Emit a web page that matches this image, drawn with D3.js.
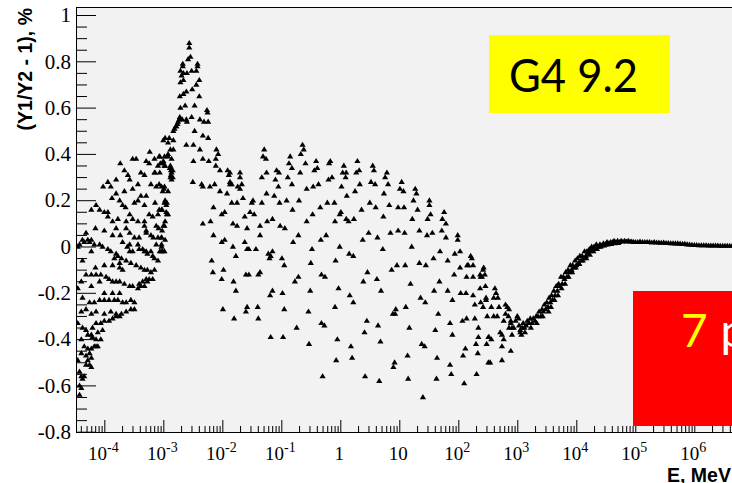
<!DOCTYPE html>
<html><head><meta charset="utf-8">
<script src="https://cdn.jsdelivr.net/npm/d3@7"></script>
<style>html,body{margin:0;padding:0;background:#fff;} svg{display:block;}</style>
</head><body><svg id="c" width="732" height="483"></svg>
<script>
// ---- tick data ----
const yMajorTicks = [-0.8,-0.6,-0.4,-0.2,0,0.2,0.4,0.6,0.8,1];
const yTickLabels = ["-0.8","-0.6","-0.4","-0.2","0","0.2","0.4","0.6","0.8","1"];
const xDecadeExps = [-4,-3,-2,-1,0,1,2,3,4,5,6];
const xTickBase = ["10","10","10","10","1","10","10","10","10","10","10"];
const xTickExp  = ["-4","-3","-2","-1","","","2","3","4","5","6"];
const yTitle = "(Y1/Y2 - 1), %";
const xTitle = "E, MeV";
const versionLabel = "G4 9.2";

// ---- data: [log10(E / MeV), (Y1/Y2 - 1) in %] ----
const lowEnergy = [
[-3.23,0.41],[-3.52,0.38],[-3.46,0.38],[-3.29,0.37],[-3.15,0.38],[-3.07,0.39],[-3.73,0.36],[-3.24,0.36],[-3.09,0.35],
[-3.66,0.33],[-3.60,0.31],[-3.57,0.29],[-3.38,0.32],[-3.32,0.31],[-3.15,0.32],[-3.94,0.28],[-3.80,0.29],[-3.43,0.27],
[-3.21,0.27],[-3.12,0.26],[-3.07,0.27],[-4.02,0.26],[-3.89,0.26],[-3.66,0.24],[-3.52,0.25],[-3.80,0.23],[-3.87,0.21],
[-3.38,0.22],[-3.29,0.22],[-3.49,0.19],[-3.43,0.20],[-3.74,0.20],[-3.69,0.18],[-3.64,0.17],[-3.32,0.18],[-3.14,0.19],
[-4.14,0.18],[-4.22,0.16],[-4.08,0.16],[-4.00,0.15],[-3.94,0.15],[-3.07,0.16],[-3.09,0.14],[-3.94,0.13],[-3.86,0.11],
[-3.77,0.12],[-3.57,0.14],[-3.52,0.12],[-3.24,0.14],[-3.18,0.13],[-3.43,0.11],[-3.63,0.11],[-3.32,0.11],[-3.32,0.09],
[-3.29,0.07],[-3.12,0.09],[-3.08,0.08],[-3.80,0.08],[-3.63,0.08],[-3.57,0.06],[-4.15,0.08],[-4.00,0.07],[-4.31,0.06],
[-3.86,0.05],[-3.73,0.05],[-3.49,0.04],[-3.41,0.04],[-3.29,0.06],[-3.21,0.05],[-3.17,0.04],[-3.09,0.04],[-3.03,0.04],
[-4.45,0.00],[-4.37,0.03],[-4.28,0.03],[-4.22,0.03],
[-4.42,0.01],[-4.34,0.02],[-4.25,0.02],[-4.17,0.01],[-4.08,0.01],[-4.03,0.00],[-3.94,-0.01],[-3.89,-0.02],[-3.80,-0.03],
[-3.77,-0.04],[-3.69,0.02],[-3.57,0.01],[-3.43,0.01],[-3.41,-0.01],[-3.32,-0.02],[-3.27,-0.03],[-3.18,-0.04],[-3.15,-0.05],
[-3.09,-0.06],[-3.12,0.01],[-3.03,0.00],[-3.06,-0.02],[-3.01,-0.02],[-3.61,0.00],[-3.57,-0.02],[-3.52,-0.02],[-3.35,-0.01],
[-3.29,-0.02],[-3.21,-0.02],[-4.22,-0.02],[-4.37,-0.06],[-3.83,-0.05],[-3.74,-0.07],[-3.71,-0.05],[-3.63,-0.06],[-3.55,-0.07],
[-3.46,-0.08],[-3.38,-0.09],[-3.32,-0.10],[-3.27,-0.10],[-3.21,-0.11],[-3.15,-0.10],[-3.86,-0.08],[-4.00,-0.08],[-4.15,-0.09],
[-3.74,-0.09],[-3.69,-0.10],[-4.31,-0.12],[-4.22,-0.12],[-4.14,-0.12],[-4.06,-0.12],[-3.97,-0.13],[-3.92,-0.14],[-3.86,-0.15],
[-3.80,-0.15],[-4.39,-0.15],[-4.45,-0.18],[-3.74,-0.15],[-3.66,-0.16],[-3.57,-0.17],[-3.52,-0.17],[-3.41,-0.16],[-3.35,-0.15],
[-3.29,-0.14],[-3.24,-0.14],[-3.18,-0.14],[-3.27,-0.15],[-3.32,-0.17],[-3.38,-0.17],[-3.43,-0.18],[-4.22,-0.17],[-4.08,-0.15],
[-4.00,-0.20],[-3.86,-0.20],[-3.74,-0.20],
[-4.37,-0.22],[-4.25,-0.24],[-4.17,-0.24],[-4.08,-0.23],[-4.00,-0.23],[-3.92,-0.23],[-3.83,-0.23],[-3.77,-0.23],[-3.69,-0.24],
[-3.63,-0.24],[-3.55,-0.23],[-3.49,-0.24],[-4.39,-0.28],[-4.31,-0.27],[-4.22,-0.29],[-4.14,-0.28],[-4.00,-0.29],[-3.89,-0.28],
[-3.80,-0.29],[-3.71,-0.29],[-3.63,-0.28],[-3.55,-0.27],[-3.49,-0.27],[-4.45,-0.33],[-4.37,-0.35],[-4.31,-0.36],[-4.28,-0.38],
[-4.20,-0.35],[-4.14,-0.33],[-4.06,-0.33],[-4.00,-0.32],[-3.92,-0.32],[-3.86,-0.31],[-3.80,-0.30],[-3.74,-0.30],[-4.22,-0.38],
[-4.20,-0.39],[-4.14,-0.40],[-4.06,-0.40],[-4.11,-0.37],[-4.03,-0.36],[-4.39,-0.40],[-4.34,-0.43],[-4.28,-0.44],[-4.22,-0.44],
[-4.17,-0.43],[-4.14,-0.43],[-4.11,-0.43],[-4.39,-0.46],[-4.31,-0.47],[-4.25,-0.46],[-4.22,-0.48],[-4.45,-0.49],[-4.28,-0.49],
[-4.25,-0.51],[-4.31,-0.51],[-4.22,-0.52],[-4.42,-0.54],[-4.39,-0.56],[-4.34,-0.56],[-4.37,-0.57],[-4.42,-0.60],[-4.39,-0.61],
[-4.42,-0.64]
];
const nearThreshold = [
[-3.06,0.39],[-3.00,0.37],[-2.92,0.39],[-2.86,0.38],[-2.97,0.47],[-3.00,0.46],[-2.92,0.45],[-2.83,0.46],[-2.90,0.47],
[-2.88,0.42],[-2.83,0.42],[-3.05,0.36],[-3.00,0.36],[-2.97,0.35],[-3.14,0.32],[-3.06,0.32],[-2.88,0.35],[-2.87,0.33],
[-2.87,0.31],[-2.86,0.29],[-2.88,0.30],[-2.89,0.34],[-2.86,0.32],[-3.03,0.26],[-2.99,0.25],[-3.01,0.24],
[-2.97,0.20],[-2.94,0.19],[-3.03,0.16],[-2.94,0.14],[-2.97,0.11],[-3.00,0.09],[-3.03,0.04],[-3.03,0.01],[-3.03,-0.02],
[-2.98,0.39],[-2.92,0.40],[-2.98,0.35],[-2.87,0.34],[-2.84,0.33],[-2.84,0.30],[-2.98,0.26],[-2.92,0.24],[-2.98,0.19],
[-2.95,0.18],[-3.02,0.16],[-2.95,0.15],[-2.92,0.14],[-2.98,0.09],[-3.02,0.07],[-2.97,0.03],[-2.98,-0.02]
];
const peakRegion = [
[-2.56,0.88],[-2.56,0.86],[-2.54,0.82],[-2.58,0.81],[-2.67,0.79],[-2.67,0.78],[-2.71,0.76],[-2.66,0.75],[-2.69,0.74],
[-2.42,0.79],[-2.42,0.78],[-2.44,0.76],[-2.60,0.75],[-2.52,0.76],[-2.39,0.72],[-2.66,0.72],[-2.71,0.71],[-2.44,0.70],
[-2.51,0.68],[-2.61,0.67],[-2.66,0.66],[-2.72,0.65],[-2.39,0.65],[-2.63,0.61],[-2.71,0.60],[-2.47,0.61],[-2.26,0.59],
[-2.25,0.58],[-2.52,0.56],[-2.61,0.55],[-2.60,0.54],[-2.38,0.55],[-2.31,0.54],[-2.24,0.54],
[-2.83,0.50],[-2.81,0.51],[-2.79,0.52],[-2.78,0.52],[-2.76,0.53],[-2.75,0.54],[-2.73,0.55],[-2.72,0.56],[-2.68,0.55],
[-2.47,0.50],[-2.33,0.48],[-2.24,0.47],[-2.61,0.44],[-2.49,0.44],[-2.38,0.42],[-2.10,0.42],[-2.07,0.40],[-2.11,0.38],
[-2.33,0.38],[-2.23,0.37],[-2.49,0.37],[-2.11,0.35],[-2.04,0.33],[-1.91,0.33],[-1.89,0.31],[-1.87,0.27],[-1.70,0.32],
[-1.70,0.30],[-2.50,0.28],[-2.35,0.27],[-2.33,0.26],[-2.21,0.26],[-2.13,0.27],[-2.04,0.24],[-1.92,0.23],[-1.84,0.27],
[-1.67,0.27],[-1.70,0.25],[-1.65,0.21]
];
const midRange = [
[-1.84,0.19],[-1.75,0.19],[-2.15,0.17],[-2.01,0.14],[-1.96,0.15],[-1.62,0.13],[-1.53,0.15],[-2.33,0.10],[-2.20,0.11],
[-1.82,0.10],[-1.75,0.09],[-1.58,0.08],[-2.15,0.05],[-1.96,0.03],[-2.01,0.02],[-1.62,0.02],[-1.82,0.00],[-1.77,-0.04],
[-1.58,-0.01],[-2.18,-0.06],[-2.16,-0.11],[-1.98,-0.10],[-2.01,-0.14],[-1.81,-0.15],[-1.60,-0.12],[-1.55,-0.12],[-1.77,-0.19],
[-1.99,-0.27],[-1.58,-0.26],[-1.60,-0.28],[-1.80,-0.31],
[-0.64,0.44],[-0.62,0.42],[-0.67,0.40],[-1.29,0.42],[-1.31,0.39],[-1.26,0.38],[-0.85,0.39],[-0.87,0.36],[-0.82,0.34],
[-0.59,0.36],[-0.41,0.37],[-0.39,0.34],[-0.44,0.33],[-0.17,0.37],[-0.19,0.36],[-0.14,0.30],[-0.20,0.29],[0.06,0.35],
[0.10,0.32],[0.04,0.32],[0.09,0.30],[0.29,0.37],[0.32,0.33],[0.27,0.32],[0.55,0.35],[0.57,0.33],[0.52,0.28],[0.59,0.27],
[0.79,0.32],[0.76,0.30],[0.81,0.27],[1.04,0.28],[1.01,0.25],[1.07,0.24],[1.27,0.25],[1.29,0.23],[1.24,0.20],[1.51,0.20],
[1.51,0.18],[1.76,0.15],[1.79,0.10],[1.73,0.12],[1.99,0.05],[1.99,0.03],[2.21,-0.04],[2.23,-0.05],[2.17,-0.08],[2.25,-0.08],
[2.43,-0.09],[2.45,-0.12],[2.38,-0.13],
[-1.87,0.32],[-1.87,0.28],[-1.74,0.26],[-1.25,0.32],[-1.33,0.30],[-1.08,0.33],[-1.04,0.32],[-1.10,0.29],[-1.05,0.26],
[-0.89,0.30],[-0.82,0.27],[-0.68,0.32],[-0.57,0.25],[-0.46,0.26],[-0.37,0.27],[0.02,0.26],[0.11,0.22],[0.25,0.24],[0.33,0.27],
[0.74,0.23],[0.83,0.18],[0.98,0.17],[1.08,0.17],[1.22,0.12],[1.31,0.16],[1.48,0.12],[1.53,0.14],
[-1.48,0.20],[-1.50,0.19],[-1.33,0.19],[-1.12,0.22],[-1.25,0.23],[-1.03,0.19],[-0.91,0.20],[-0.70,0.20],[-0.81,0.16],
[-0.47,0.14],[-0.34,0.17],[-0.22,0.19],[-0.10,0.19],[0.01,0.15],[0.14,0.11],[0.23,0.12],[0.36,0.16],[0.50,0.19],[0.60,0.17],
[0.73,0.13],[0.85,0.06],[0.98,0.07],[1.09,0.06],[1.21,0.00],[1.34,0.07],[1.47,0.05],[1.56,0.06],[1.72,0.07],[1.79,0.04],
[1.58,-0.05],[1.69,-0.02],[1.82,-0.06],[1.94,-0.03],[2.03,-0.02],[1.93,-0.12],[2.03,-0.09],[2.15,-0.08],[2.14,-0.13],
[2.25,-0.13],[2.37,-0.12],[2.46,-0.17],
[-1.46,0.14],[-1.36,0.09],[-1.24,0.11],[-1.15,0.12],[-1.02,0.09],[-0.94,0.08],[-0.80,0.02],[-0.71,0.05],[-0.48,-0.01],
[-0.33,0.03],[-0.24,0.05],[-0.01,0.00],[0.15,-0.03],[0.22,-0.04],[0.38,0.03],[0.48,0.06],[0.63,0.04],[0.72,-0.01],
[0.87,-0.10],[0.96,-0.08],[1.10,-0.08],[1.19,-0.16],[1.34,-0.07],[1.45,-0.08],[1.68,-0.15],[1.59,-0.19],[1.82,-0.19],
[1.90,-0.23],[2.04,-0.20],[2.13,-0.20],[2.25,-0.21],[2.37,-0.18],[2.47,-0.22],
[-1.39,-0.12],[-1.36,-0.11],[-1.19,-0.21],[-1.15,-0.19],[-0.98,-0.20],[-0.95,-0.27],[-0.77,-0.15],[-0.71,-0.13],[-0.51,-0.19],
[-0.54,-0.28],[-0.32,-0.12],[-0.26,-0.13],[-0.03,-0.18],[0.16,-0.21],[0.22,-0.24],[-0.09,-0.26],[0.39,-0.15],[0.46,-0.11],
[0.62,-0.14],[0.69,-0.19],[0.89,-0.29],[0.94,-0.27],[1.11,-0.26],[1.17,-0.35],[1.36,-0.22],[1.44,-0.24],[1.61,-0.36],
[1.66,-0.29],[1.86,-0.33],[1.90,-0.38],[2.07,-0.32],[2.14,-0.31],[2.28,-0.31],[2.49,-0.30],[2.34,-0.39],[2.51,-0.39],
[-1.40,-0.26],[-1.39,-0.31],[-1.18,-0.39],[-0.97,-0.39],[-0.74,-0.35],[-0.53,-0.42],[-0.32,-0.33],[-0.27,-0.34],[-0.05,-0.40],
[-0.07,-0.49],[0.18,-0.43],[0.20,-0.48],[-0.30,-0.56],[0.42,-0.56],[0.66,-0.58],[0.45,-0.32],[0.41,-0.37],[0.64,-0.34],
[0.68,-0.41],[0.93,-0.29],[0.90,-0.52],[0.92,-0.50],[1.14,-0.47],[1.15,-0.57],[1.40,-0.65],[1.38,-0.42],[1.43,-0.43],
[1.64,-0.48],[1.63,-0.57],[1.86,-0.51],[1.88,-0.55],[2.10,-0.59],[2.12,-0.44],[2.08,-0.47],[2.30,-0.42],[2.33,-0.46],
[2.31,-0.55],[2.51,-0.50],[2.34,-0.35],[2.42,-0.26],[2.28,-0.25],[2.38,-0.24],
[-1.55,-0.01],[-1.43,-0.01],[-1.18,-0.04],[-1.20,-0.05],[-0.99,-0.05],[-0.95,-0.08],[-0.50,-0.07],[-0.08,-0.06],[-1.36,0.05],
[-1.22,-0.03],[-1.15,-0.02],[-0.57,0.11],[-0.09,0.11],[-0.01,0.14],[0.10,0.12]
];
const upperRange = [
[2.42,-0.10],[2.40,-0.13],[2.62,-0.18],[2.64,-0.20],[2.60,-0.22],[2.67,-0.22],[2.47,-0.23],[2.56,-0.26],[2.69,-0.26],
[2.66,-0.30],[2.60,-0.30],[2.80,-0.25],[2.83,-0.26],[2.86,-0.27],[2.80,-0.29],[2.85,-0.30],[3.00,-0.30],[3.02,-0.31],
[2.97,-0.32],[2.89,-0.32],[2.94,-0.35],[2.91,-0.38],[2.77,-0.32],[2.74,-0.38],[2.71,-0.37],[2.77,-0.40],[2.74,-0.43],
[2.74,-0.49],[2.52,-0.39],[2.56,-0.40],[2.48,-0.42],[2.54,-0.50],[2.89,-0.45],[2.89,-0.33],[2.91,-0.35],[2.86,-0.35],
[3.03,-0.34],[3.05,-0.37],[3.07,-0.38]
];
const riseCurve = [
[3.05,-0.36],[3.08,-0.35],[3.10,-0.33],[3.12,-0.35],[3.15,-0.34],[3.17,-0.32],[3.20,-0.33],[3.22,-0.31],[3.25,-0.33],
[3.27,-0.31],[3.30,-0.32],[3.32,-0.30],[3.35,-0.30],[3.37,-0.28],[3.40,-0.30],[3.42,-0.27],[3.44,-0.28],[3.46,-0.25],
[3.48,-0.27],[3.50,-0.24],[3.52,-0.26],[3.54,-0.22],[3.56,-0.24],[3.58,-0.21],[3.60,-0.23],[3.62,-0.19],[3.64,-0.21],
[3.66,-0.17],[3.68,-0.19],[3.70,-0.16],[3.72,-0.17],[3.74,-0.13],[3.76,-0.16],[3.78,-0.13],[3.80,-0.14],[3.82,-0.11],
[3.84,-0.13],[3.86,-0.10],[3.88,-0.11],[3.90,-0.08],[3.92,-0.10],[3.94,-0.08],[3.96,-0.09],[3.98,-0.06],[4.00,-0.08],
[4.02,-0.05],[4.04,-0.07],[4.06,-0.04],[4.08,-0.06],[4.10,-0.04],[4.12,-0.05],[4.14,-0.02],[4.16,-0.04],[4.18,-0.02],
[4.20,-0.03],[4.22,-0.01],[4.24,-0.02],[4.26,0.00],[4.28,-0.01],[4.30,0.00],[4.32,-0.01],[4.34,0.01],[4.37,0.00],
[4.40,0.01],[4.43,0.005],[4.46,0.015],[4.49,0.01],[4.52,0.02],[4.55,0.015],[4.58,0.02],[4.61,0.02],[4.64,0.025],
[4.67,0.02],[4.70,0.025],[4.73,0.02],[4.76,0.025],[4.79,0.022],[4.82,0.025],[4.85,0.022],[4.88,0.025],[4.91,0.022],
[4.94,0.022],[4.97,0.02],
[3.13,-0.37],[3.23,-0.35],[3.33,-0.33],[3.43,-0.30],[3.53,-0.28],[3.57,-0.26],[3.63,-0.23],[3.69,-0.21],[3.75,-0.18],
[3.81,-0.16],[3.87,-0.13],[3.93,-0.11],[3.99,-0.09],[4.05,-0.075],[4.11,-0.06],[4.17,-0.05],[4.23,-0.035],[4.29,-0.02],
[4.35,-0.01],[4.41,0.00],[4.47,0.005],[4.53,0.01],[4.59,0.012],[4.65,0.015],[4.71,0.016]
];
const plateau = [
[5.00,0.02],[5.04,0.02],[5.08,0.022],[5.12,0.02],[5.16,0.02],[5.20,0.02],[5.24,0.02],[5.28,0.018],[5.32,0.02],
[5.36,0.018],[5.40,0.018],[5.44,0.017],[5.48,0.018],[5.52,0.016],[5.56,0.016],[5.60,0.015],[5.64,0.015],[5.68,0.014],
[5.72,0.014],[5.76,0.013],[5.80,0.012],[5.84,0.012],[5.88,0.010],[5.92,0.009],[5.96,0.008],[6.00,0.007],[6.04,0.007],
[6.08,0.006],[6.12,0.006],[6.16,0.006],[6.20,0.006],[6.24,0.005],[6.28,0.005],[6.32,0.005],[6.36,0.005],[6.40,0.005],
[6.44,0.004],[6.48,0.004],[6.52,0.004],[6.56,0.004],[6.60,0.004],[6.64,0.003],[6.68,0.003]
];

// ---- layout ----
const svg = d3.select("#c");
const L = 76, T = 7, R = 732, B = 432;
const x = d3.scaleLog().domain([Math.pow(10,-4.48), Math.pow(10,6.64)]).range([L, 732.06]);
const y = d3.scaleLinear().domain([-0.8, 1.0]).range([431.7, 15]);

svg.append("rect").attr("x",0).attr("y",0).attr("width",732).attr("height",483).attr("fill","#ffffff");
svg.append("rect").attr("x",L).attr("y",T).attr("width",R-L).attr("height",B-T).attr("fill","#f2f2f2");

svg.append("defs").append("clipPath").attr("id","plotclip")
  .append("rect").attr("x",L).attr("y",T).attr("width",R-L).attr("height",B-T);

// points
const allPts = [].concat(lowEnergy, nearThreshold, peakRegion, midRange, upperRange, riseCurve, plateau);
const tri = "M0,-2.9L3.1,2.2L-3.1,2.2Z";
svg.append("g").attr("clip-path","url(#plotclip)")
  .selectAll("path").data(allPts).join("path")
  .attr("d", tri)
  .attr("transform", d => `translate(${x(Math.pow(10,d[0]))},${y(d[1])})`)
  .attr("fill","#000");

// y axis
const yMinor = d3.range(-0.75, 1.0001, 0.05).map(v => Math.round(v*100)/100)
  .filter(v => !yMajorTicks.some(m => Math.abs(m - v) < 1e-6));
const gyMinor = svg.append("g").attr("transform",`translate(${L},0)`)
  .call(d3.axisLeft(y).tickValues(yMinor).tickSize(-11).tickFormat(""));
gyMinor.select(".domain").remove();
const gy = svg.append("g").attr("transform",`translate(${L},0)`)
  .call(d3.axisLeft(y).tickValues(yMajorTicks).tickSize(-20).tickPadding(5)
        .tickFormat((d,i) => yTickLabels[i]));
gy.select(".domain").remove();
gy.selectAll("text").attr("font-family","'Liberation Serif', serif").attr("font-size",21).attr("fill","#000");

// x axis
const xMajor = xDecadeExps.map(e => Math.pow(10,e));
const xMinor = [];
for (let e = -5; e <= 6; e++) for (let m = 2; m <= 9; m++) {
  const v = m*Math.pow(10,e);
  if (v > x.domain()[0] && v < x.domain()[1]) xMinor.push(v);
}
const gxMinor = svg.append("g").attr("transform",`translate(0,${B})`)
  .call(d3.axisBottom(x).tickValues(xMinor).tickSize(-6).tickFormat(""));
gxMinor.select(".domain").remove();
const gx = svg.append("g").attr("transform",`translate(0,${B})`)
  .call(d3.axisBottom(x).tickValues(xMajor).tickSize(-12).tickFormat(""));
gx.select(".domain").remove();

const labs = svg.append("g").attr("font-family","'Liberation Serif', serif").attr("fill","#000");
xMajor.forEach((v,i) => {
  const t = labs.append("text").attr("x", x(v) - 1).attr("y", 460).attr("text-anchor","middle").attr("font-size",19);
  t.append("tspan").text(xTickBase[i]);
  if (xTickExp[i]) t.append("tspan").attr("font-size",14).attr("dy",-8).text(xTickExp[i]);
});

// frame lines
svg.append("line").attr("x1",L).attr("x2",R).attr("y1",B+0.5).attr("y2",B+0.5).attr("stroke","#000");
svg.append("line").attr("x1",L+0.5).attr("x2",L+0.5).attr("y1",T).attr("y2",B+0.5).attr("stroke","#000");
svg.append("line").attr("x1",L).attr("x2",R).attr("y1",T+0.5).attr("y2",T+0.5).attr("stroke","#000");

// titles
svg.append("text").attr("transform","translate(32,8) rotate(-90)").attr("text-anchor","end")
  .attr("font-family","'Liberation Sans', Arial, sans-serif").attr("font-weight","bold").attr("font-size",19.5)
  .attr("fill","#000").text(yTitle);
svg.append("text").attr("x",667).attr("y",481.5)
  .attr("font-family","'Liberation Sans', Arial, sans-serif").attr("font-weight","bold").attr("font-size",19.5)
  .attr("fill","#000").text(xTitle);

// annotation boxes
svg.append("rect").attr("x",489).attr("y",35).attr("width",181).attr("height",78).attr("fill","#ffff00");
svg.append("text").attr("x",509).attr("y",92).attr("font-family","Lato, 'Open Sans', sans-serif")
  .attr("font-size",46).attr("fill","#000").attr("textLength",129).attr("lengthAdjust","spacingAndGlyphs").text(versionLabel);
svg.append("rect").attr("x",633).attr("y",291).attr("width",120).attr("height",135).attr("fill","#ff0000");
const t7 = svg.append("text").attr("x",681).attr("y",347).attr("font-family","Lato, 'Open Sans', sans-serif").attr("font-size",46);
t7.append("tspan").attr("fill","#ffff00").text("7");
t7.append("tspan").attr("fill","#ffffff").attr("dx",1).text(" p");
</script></body></html>
